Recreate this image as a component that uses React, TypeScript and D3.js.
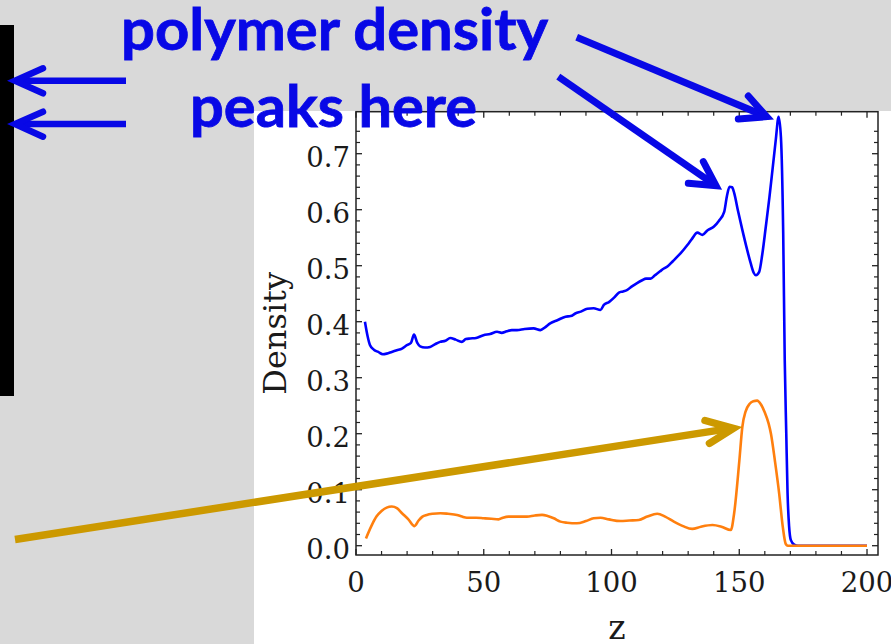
import React from "react";
import * as d3 from "d3";

// ---- data ----
const polymerZ = [3.5,4.5,5.5,7,8.7,10.5,12,14,16,18,19.9,21.5,22.7,24,25.1,27,29,31,32.9,35,36.9,39,41.4,43,44.7,47,49.9,52.5,55.2,57,59,61,63,66,69.5,72.2,74,76,79,82,84,86,88,90.5,93,95.7,97,99,101,102.9,104.5,106.2,108,110,112,113.5,115.3,117,119,120.5,122,124,125.1,127,129.7,131.5,133.6,135.6,137.5,140.1,142,144.1,145.2,146.2,147.2,148,149.5,151.2,153,154.5,155.7,156.5,157.8,159,160.4,161.8,163,164.3,165.4,166.3,167.2,167.8,168.4,168.9,169.5,170.2,171.5,173,200];
const polymerDensity = [0.400,0.375,0.358,0.350,0.346,0.342,0.343,0.346,0.349,0.352,0.358,0.362,0.377,0.362,0.356,0.354,0.355,0.360,0.364,0.366,0.371,0.368,0.364,0.369,0.370,0.371,0.376,0.378,0.382,0.380,0.383,0.385,0.385,0.387,0.388,0.385,0.390,0.397,0.403,0.409,0.410,0.415,0.418,0.423,0.424,0.421,0.430,0.435,0.443,0.452,0.454,0.457,0.463,0.469,0.474,0.477,0.477,0.483,0.490,0.495,0.499,0.508,0.513,0.522,0.537,0.548,0.559,0.555,0.563,0.570,0.580,0.596,0.625,0.641,0.640,0.630,0.598,0.564,0.530,0.504,0.487,0.483,0.489,0.520,0.570,0.622,0.671,0.725,0.766,0.730,0.558,0.331,0.200,0.094,0.035,0.010,0.002,0.0,0.0];

const otherZ = [3.9,6,8,10,12,14,16,18,20.5,22.9,24.5,26,27.7,30,33,36,39.5,41.5,43.4,47,50,53,55.8,57.5,59.7,63,66.9,70,72.8,75,77.4,80,82.6,86.5,90,93,95.7,99,103.5,107,110.7,114,117.9,121,124.4,128,131.6,135,139.5,143,146.7,148,150,151.2,152.5,154,155.5,157,158.5,160,161.5,162.4,164,165.6,167,168.2,169,200];
const otherDensity = [0.013,0.035,0.052,0.062,0.068,0.070,0.067,0.058,0.047,0.035,0.045,0.052,0.055,0.057,0.058,0.057,0.055,0.052,0.050,0.050,0.049,0.048,0.047,0.050,0.052,0.052,0.052,0.054,0.055,0.053,0.049,0.043,0.041,0.040,0.044,0.049,0.050,0.047,0.044,0.045,0.046,0.052,0.057,0.052,0.043,0.035,0.030,0.034,0.037,0.034,0.028,0.058,0.150,0.212,0.240,0.253,0.258,0.259,0.252,0.238,0.218,0.200,0.150,0.094,0.035,0.003,0.0,0.0];

const xMajorTicks = [0, 50, 100, 150, 200];
const yMajorTicks = [0.0, 0.1, 0.2, 0.3, 0.4, 0.5, 0.6, 0.7];
const xLabel = "z";
const yLabel = "Density";
const titleLine1 = "polymer density";
const titleLine2 = "peaks here";

// ---- layout ----
const W = 891, H = 644;
const PL = 356, PR = 878, PT = 111.7, PB = 555;
const ANNOT_BLUE = "#0808e6";
const GOLD = "#cc9900";

export default function App() {
  const x = d3.scaleLinear().domain([0, 204.3]).range([PL, PR]);
  const y = d3.scaleLinear().domain([-0.0166, 0.775]).range([PB, PT]);

  const line = d3.line<[number, number]>()
    .x(d => x(d[0]))
    .y(d => y(d[1]))
    .curve(d3.curveMonotoneX);

  const bluePts = polymerZ.map((z, i) => [z, polymerDensity[i]] as [number, number]);
  const orangePts = otherZ.map((z, i) => [z, otherDensity[i]] as [number, number]);

  const xMinor = d3.range(0, 201, 10).filter(v => !xMajorTicks.includes(v));
  const yMinor = d3.range(0, 38).map(i => +(i * 0.02).toFixed(2)).filter(v => Math.abs(v * 10 - Math.round(v * 10)) > 1e-6);

  const tickColor = "#222";
  const fontSerif = "'DejaVu Serif', serif";
  const annotFont = "Lato, 'Open Sans', sans-serif";

  return (
    <svg width={W} height={H} style={{ position: "absolute", left: 0, top: 0, display: "block" }}>
      <rect x={0} y={0} width={W} height={H} fill="#d9d9d9" />
      <rect x={0} y={25} width={14} height={371} fill="#000" />
      <rect x={254} y={111} width={W - 254} height={H - 111} fill="#fff" />

      {/* series */}
      <path d={line(bluePts) || ""} fill="none" stroke="#0000ff" strokeWidth={2.6} strokeLinejoin="round" />
      <path d={line(orangePts) || ""} fill="none" stroke="#ff7f0e" strokeWidth={2.6} strokeLinejoin="round" />

      {/* frame */}
      <rect x={PL} y={PT} width={PR - PL} height={PB - PT} fill="none" stroke={tickColor} strokeWidth={1.5} />

      {/* x ticks (bottom & top, inward) */}
      {xMajorTicks.map(v => (
        <g key={"xM" + v}>
          <line x1={x(v)} x2={x(v)} y1={PB} y2={PB - 6} stroke={tickColor} strokeWidth={1.3} />
          <line x1={x(v)} x2={x(v)} y1={PT} y2={PT + 6} stroke={tickColor} strokeWidth={1.3} />
          <text x={x(v)} y={PB + 37} textAnchor="middle" fontFamily={fontSerif} fontSize={27.5} fill="#1a1a1a">{v}</text>
        </g>
      ))}
      {xMinor.map(v => (
        <g key={"xm" + v}>
          <line x1={x(v)} x2={x(v)} y1={PB} y2={PB - 4} stroke={tickColor} strokeWidth={1.2} />
          <line x1={x(v)} x2={x(v)} y1={PT} y2={PT + 4} stroke={tickColor} strokeWidth={1.2} />
        </g>
      ))}

      {/* y ticks (left & right, inward) */}
      {yMajorTicks.map(v => (
        <g key={"yM" + v}>
          <line x1={PL} x2={PL + 6} y1={y(v)} y2={y(v)} stroke={tickColor} strokeWidth={1.3} />
          <line x1={PR} x2={PR - 6} y1={y(v)} y2={y(v)} stroke={tickColor} strokeWidth={1.3} />
          <text x={PL - 6} y={y(v) + 13} textAnchor="end" fontFamily={fontSerif} fontSize={27.5} fill="#1a1a1a">{v.toFixed(1)}</text>
        </g>
      ))}
      {yMinor.map(v => (
        <g key={"ym" + v}>
          <line x1={PL} x2={PL + 4} y1={y(v)} y2={y(v)} stroke={tickColor} strokeWidth={1.2} />
          <line x1={PR} x2={PR - 4} y1={y(v)} y2={y(v)} stroke={tickColor} strokeWidth={1.2} />
        </g>
      ))}

      {/* axis labels */}
      <text x={(PL + PR) / 2} y={639} textAnchor="middle" fontFamily={fontSerif} fontSize={33} fill="#1a1a1a">{xLabel}</text>
      <text transform={`translate(286, ${(PT + PB) / 2}) rotate(-90)`} textAnchor="middle" fontFamily={fontSerif} fontSize={32} fill="#1a1a1a">{yLabel}</text>

      {/* annotations */}
      <text x={121} y={50} fontFamily={annotFont} fontWeight="bold" fontSize={57} fill={ANNOT_BLUE} stroke={ANNOT_BLUE} strokeWidth={0.8} textLength={427} lengthAdjust="spacingAndGlyphs">{titleLine1}</text>
      <text x={190} y={127} fontFamily={annotFont} fontWeight="bold" fontSize={57} fill={ANNOT_BLUE} stroke={ANNOT_BLUE} strokeWidth={0.8} textLength={287} lengthAdjust="spacingAndGlyphs">{titleLine2}</text>

      <g stroke={ANNOT_BLUE} strokeWidth={6.5} fill="none">
        <line x1={126} y1={80.7} x2={18} y2={80.7} />
        <path d="M43,68.3 L15,80.7 L43,93.3" strokeLinecap="round" strokeLinejoin="miter" />
        <line x1={126} y1={124} x2={18} y2={124} />
        <path d="M43,111.7 L15,124 L43,136.7" strokeLinecap="round" strokeLinejoin="miter" />
      </g>
      <g stroke={ANNOT_BLUE} strokeWidth={7} fill="none">
        <line x1={576.7} y1={37.3} x2={763} y2={115.2} />
        <path d="M748.3,96 L766.7,116.7 L738.3,119" strokeLinecap="round" strokeLinejoin="miter" />
        <line x1={558.3} y1={76.7} x2={713} y2={183.6} />
        <path d="M703.3,161.7 L716,185.7 L688.3,183.3" strokeLinecap="round" strokeLinejoin="miter" />
      </g>
      <g stroke={GOLD} strokeWidth={7.5} fill="none">
        <line x1={15} y1={539.5} x2={729} y2={428.6} />
        <path d="M705,420.5 L733.3,428.3 L709.5,443.3" strokeLinecap="round" strokeLinejoin="miter" />
      </g>
    </svg>
  );
}
